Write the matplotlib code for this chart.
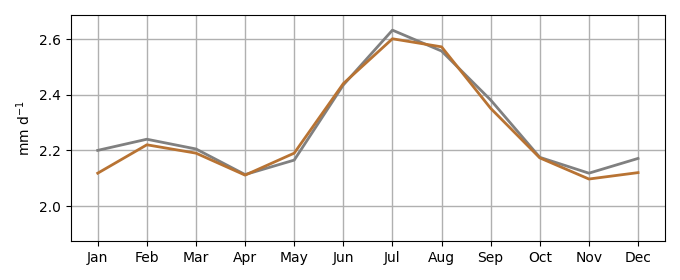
import matplotlib
matplotlib.use("Agg")
import matplotlib.pyplot as plt

months = ["Jan", "Feb", "Mar", "Apr", "May", "Jun", "Jul", "Aug", "Sep", "Oct", "Nov", "Dec"]
series_gray = [2.200, 2.240, 2.205, 2.113, 2.165, 2.435, 2.632, 2.557, 2.381, 2.175, 2.118, 2.171]
series_brown = [2.118, 2.220, 2.190, 2.111, 2.190, 2.440, 2.601, 2.572, 2.351, 2.173, 2.097, 2.120]

fig = plt.figure(figsize=(6.8, 2.8), dpi=100)
ax = fig.add_axes([0.104, 0.139, 0.874, 0.807])
x = list(range(len(months)))
ax.plot(x, series_gray, color="#808080", lw=2)
ax.plot(x, series_brown, color="#b87333", lw=2)
ax.set_xticks(x)
ax.set_xticklabels(months)
ax.set_xlim(-0.55, 11.55)
ax.set_ylim(1.874, 2.686)
ax.set_yticks([2.0, 2.2, 2.4, 2.6])
ax.set_ylabel("mm d$^{-1}$")
ax.grid(True, color="#b0b0b0", lw=1)
ax.set_axisbelow(True)
fig.savefig("out.png", dpi=100)
